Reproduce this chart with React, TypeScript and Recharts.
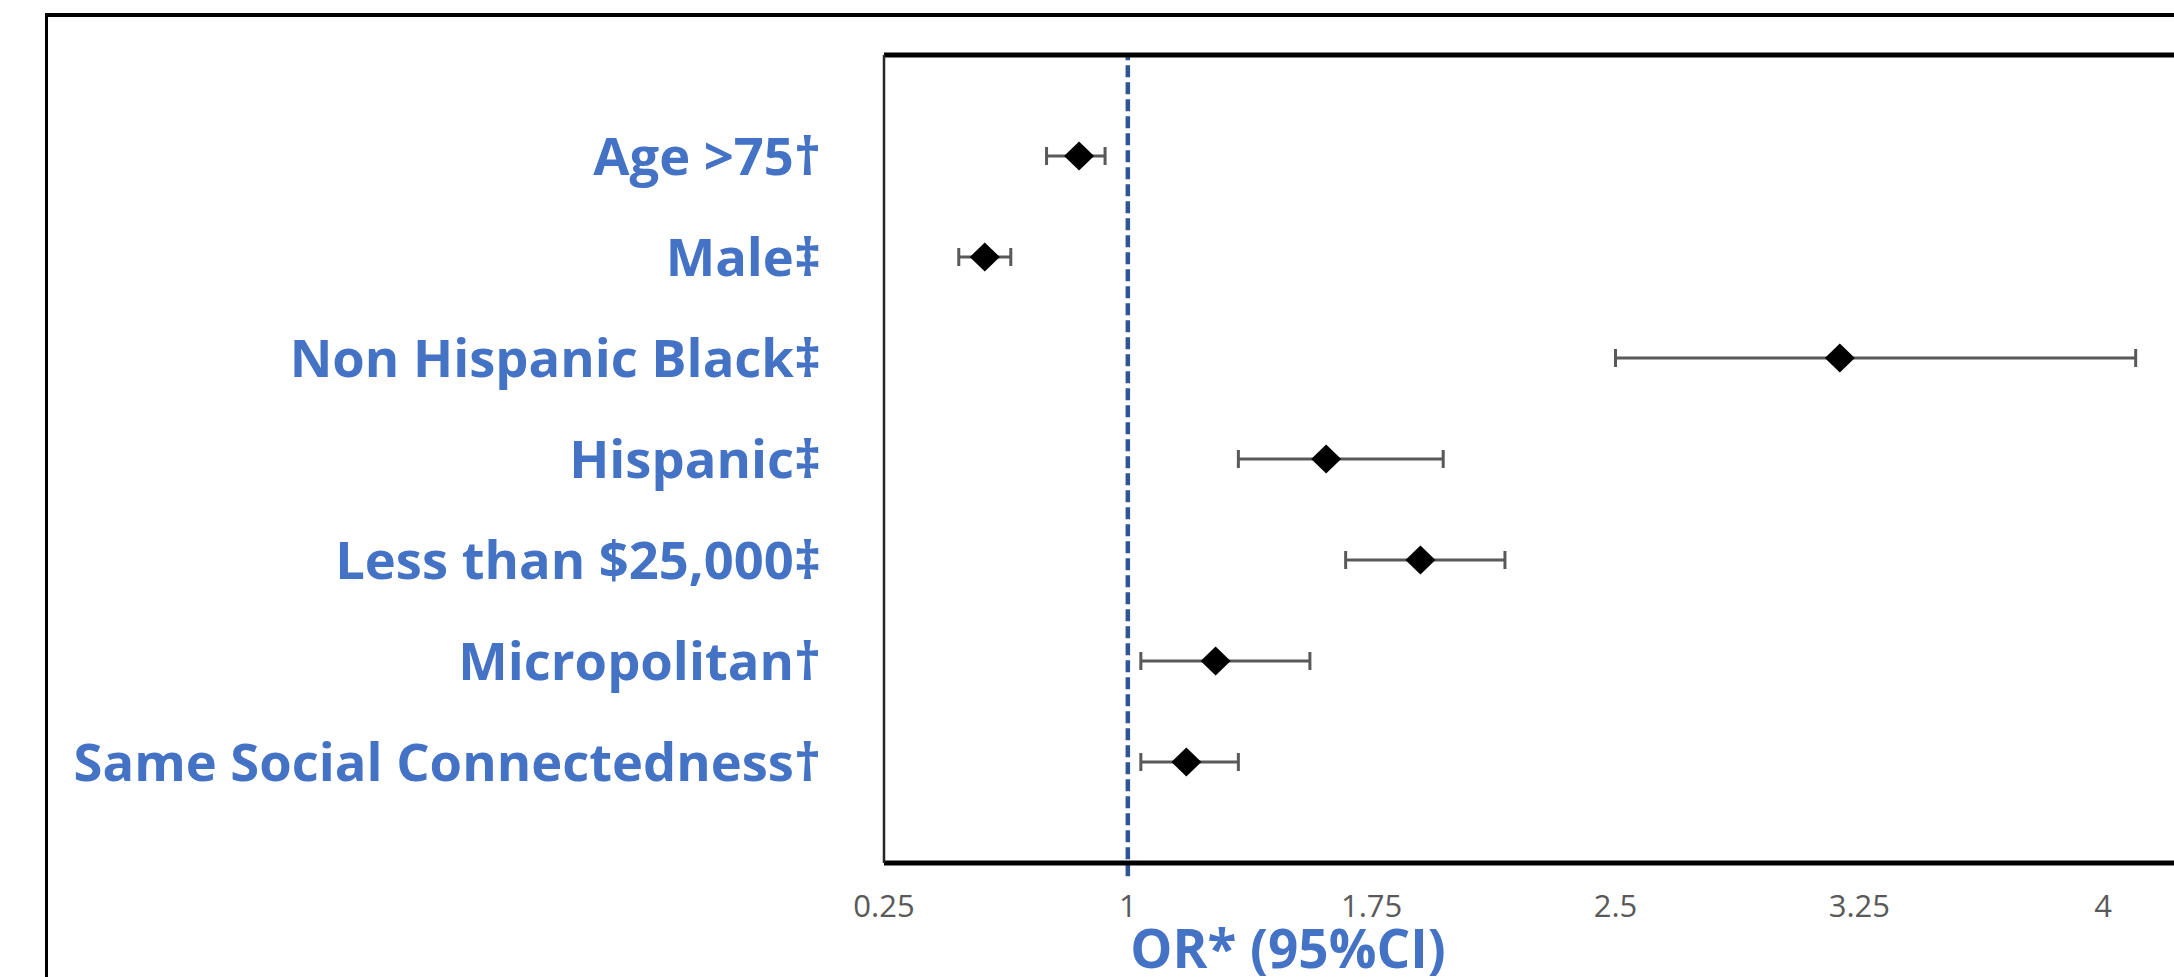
import React from "react";
import {
  ScatterChart,
  Scatter,
  XAxis,
  YAxis,
  ErrorBar,
  ReferenceLine
} from "recharts";

const CATEGORIES = [
  "Age >75†",
  "Male‡",
  "Non Hispanic Black‡",
  "Hispanic‡",
  "Less than $25,000‡",
  "Micropolitan†",
  "Same Social Connectedness†"
];
const OR_VALUES = [0.85, 0.56, 3.19, 1.61, 1.9, 1.27, 1.18];
const CI_LOW = [0.75, 0.48, 2.5, 1.34, 1.67, 1.04, 1.04];
const CI_HIGH = [0.93, 0.64, 4.1, 1.97, 2.16, 1.56, 1.34];
const X_TICKS = [0.25, 1, 1.75, 2.5, 3.25, 4];
const Y_TICKS = [1, 2, 3, 4, 5, 6, 7];

const FONT = "'Open Sans', sans-serif";
const BLUE = "#4472C4";
const GREY = "#595959";

// top row sits at y = 7, bottom at y = 1 (Excel-style forest plot)
const rows = CATEGORIES.map((name, i) => ({
  name,
  y: CATEGORIES.length - i,
  or: OR_VALUES[i],
  err: [OR_VALUES[i] - CI_LOW[i], CI_HIGH[i] - OR_VALUES[i]]
}));

const labelFor = (v: number) => CATEGORIES[CATEGORIES.length - v] ?? "";

const Diamond = (props: any) => {
  const { cx, cy } = props;
  if (cx == null || cy == null) return null;
  return (
    <path
      d={`M${cx},${cy - 14.5} L${cx + 15},${cy} L${cx},${cy + 14.5} L${cx - 15},${cy} Z`}
      fill="#000"
    />
  );
};

const AxisTitle = (props: any) => {
  const vb = props.viewBox || {};
  return (
    <text
      x={vb.x + 404}
      y={vb.y + 105}
      textAnchor="middle"
      fill={BLUE}
      fontFamily={FONT}
      fontWeight={700}
      fontSize={53}
    >
      OR* (95%CI)
    </text>
  );
};

export default function App() {
  return (
    <div
      style={{
        position: "fixed",
        left: 0,
        top: 0,
        width: 2174,
        height: 977,
        overflow: "hidden",
        background: "#fff"
      }}
    >
      <div
        style={{
          position: "absolute",
          left: 45,
          top: 13,
          width: 3000,
          height: 2000,
          borderLeft: "3px solid #000",
          borderTop: "4px solid #000"
        }}
      />
      <div style={{ position: "absolute", left: 0, top: 0 }}>
        <ScatterChart
          width={2600}
          height={1100}
          margin={{ top: 55, right: 253, bottom: 137, left: 0 }}
        >
          <XAxis
            type="number"
            dataKey="or"
            domain={[0.25, 4.75]}
            ticks={X_TICKS}
            allowDataOverflow
            interval={0}
            height={100}
            tickSize={0}
            tickMargin={32}
            tickLine={false}
            axisLine={{ stroke: "#000", strokeWidth: 5 }}
            tick={{ fill: GREY, fontSize: 31, fontFamily: FONT }}
            label={<AxisTitle />}
          />
          <YAxis
            type="number"
            dataKey="y"
            domain={[0, 8]}
            ticks={Y_TICKS}
            allowDataOverflow
            interval={0}
            width={884}
            tickSize={0}
            tickMargin={63}
            tickLine={false}
            tickFormatter={labelFor}
            axisLine={{ stroke: "#262626", strokeWidth: 2.5 }}
            tick={{ fill: BLUE, fontSize: 52.5, fontWeight: 700, fontFamily: FONT }}
          />
          <ReferenceLine
            segment={[
              { x: 1, y: -0.13 },
              { x: 1, y: 8 }
            ]}
            ifOverflow="visible"
            stroke="#2E5597"
            strokeWidth={4.5}
            strokeDasharray="12 5"
          />
          {/* top edge of the plot box */}
          <ReferenceLine y={8} ifOverflow="visible" stroke="#000" strokeWidth={5} />
          <Scatter data={rows} shape={<Diamond />} isAnimationActive={false}>
            <ErrorBar
              dataKey="err"
              direction="x"
              width={9}
              stroke={GREY}
              strokeWidth={3}
              isAnimationActive={false}
            />
          </Scatter>
        </ScatterChart>
      </div>
    </div>
  );
}
